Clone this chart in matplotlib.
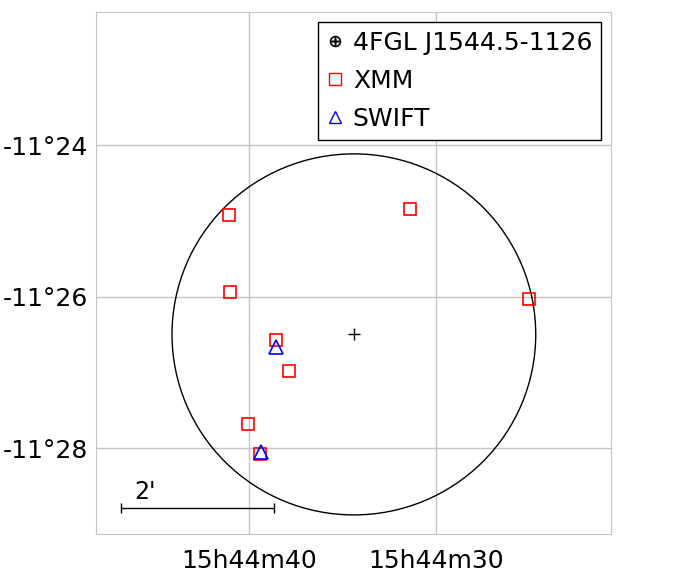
# sky map of 4FGL J1544.5-1126 with X-ray counterparts

import numpy as np
import matplotlib.pyplot as plt
from matplotlib.patches import Ellipse
from matplotlib.lines import Line2D

# RA given as seconds after 15h44m, Dec as arcmin below -11 deg
fgl_ra_s = [34.39]
fgl_dec_m = [26.50]
fgl_r = 2.383  # error circle radius, arcmin

xmm_ra_s = [41.07, 31.39, 25.03, 41.02, 38.56, 37.86, 40.05, 39.41]
xmm_dec_m = [24.92, 24.85, 26.03, 25.94, 26.57, 26.98, 27.68, 28.08]

swift_ra_s = [38.56, 39.36]
swift_dec_m = [26.67, 28.05]

xtick_s = [40, 30]
xtick_lab = ['15h44m40', '15h44m30']
ytick_m = [24, 26, 28]
ytick_lab = ['-11°24', '-11°26', '-11°28']

def ra_deg(s):
    return 15*(15 + 44/60 + np.asarray(s)/3600)

def dec_deg(m):
    return -(11 + np.asarray(m)/60)

cosd = np.cos(np.radians(dec_deg(26.5)))

plt.rcParams['font.size'] = 18

fig = plt.figure(figsize=(6.81, 5.81), dpi=100)
ax = fig.add_axes([96/681, 1-534/581, 515/681, 522/581])

ax.plot(ra_deg(xmm_ra_s), dec_deg(xmm_dec_m), 's', ms=8, mfc='none', mec='red', mew=1.2)
ax.plot(ra_deg(swift_ra_s), dec_deg(swift_dec_m), '^', ms=10, mfc='none', mec='blue', mew=1.2)
ax.plot(ra_deg(fgl_ra_s), dec_deg(fgl_dec_m), '+', ms=8, color='k', mew=1)

circ = Ellipse((ra_deg(fgl_ra_s[0]), dec_deg(fgl_dec_m[0])),
               width=2*fgl_r/60/cosd, height=2*fgl_r/60,
               fill=False, ec='k', lw=1)
ax.add_patch(circ)

# scale bar, 2 arcmin
x0 = ra_deg(46.84)
y0 = dec_deg(28.79)
x1 = x0 - 2/60/cosd
ax.plot([x0, x1], [y0, y0], color='k', lw=1, marker='|', ms=7, mew=1)
ax.text(ra_deg(46.15), dec_deg(28.67), "2'", ha='left', va='baseline', fontsize=17)

ax.set_xlim(ra_deg(48.18), ra_deg(20.64))
ax.set_ylim(dec_deg(29.135), dec_deg(22.244))

ax.set_xticks(ra_deg(xtick_s))
ax.set_xticklabels(xtick_lab)
ax.set_yticks(dec_deg(ytick_m))
ax.set_yticklabels(ytick_lab)
ax.tick_params(length=0, labelsize=18)
ax.tick_params(axis='y', pad=6)
ax.tick_params(axis='x', pad=11)
ax.grid(True, color='#c4c4c4', lw=1)
ax.set_axisbelow(True)
for sp in ax.spines.values():
    sp.set_color('#c4c4c4')

handles = [
    Line2D([], [], ls='none', marker='$\\oplus$', ms=8, color='k', mew=0.3),
    Line2D([], [], ls='none', marker='s', ms=8, mfc='none', mec='red', mew=1),
    Line2D([], [], ls='none', marker='^', ms=9, mfc='none', mec='blue', mew=1),
]
leg = ax.legend(handles, ['4FGL J1544.5-1126', 'XMM', 'SWIFT'], loc='upper right',
                fancybox=False, framealpha=1, edgecolor='k', fontsize=18,
                handlelength=0.65, handletextpad=0.4, borderaxespad=0.4,
                borderpad=0.35, labelspacing=0.56)
leg.get_frame().set_linewidth(1)

fig.savefig('out.png', dpi=100)
